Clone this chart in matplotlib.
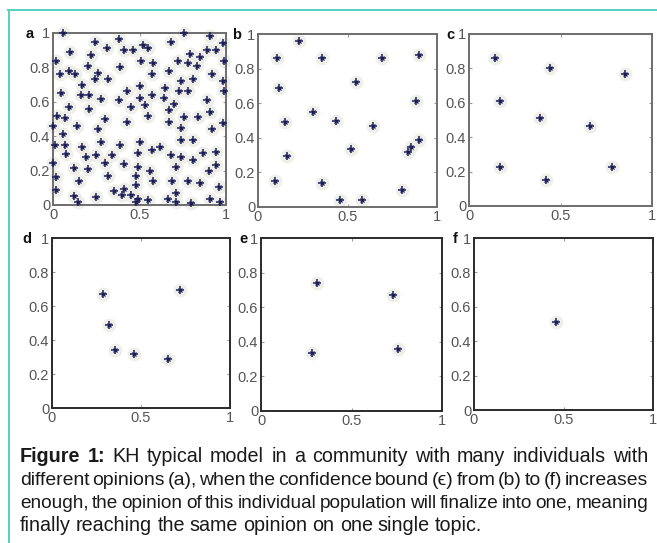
import numpy as np
import matplotlib
matplotlib.use("Agg")
import matplotlib.pyplot as plt
from matplotlib.lines import Line2D

plt.rcParams['font.family'] = ['Liberation Sans', 'DejaVu Sans']

# opinions of the individuals (x, y)
a_x = [0.058, 0.76, 0.91, 0.24, 0.38, 0.52, 0.68, 0.98, 0.10, 0.31, 0.41, 0.46, 0.55, 0.89,
       0.94, 0.22, 0.79, 0.02, 0.85, 0.51, 0.58, 0.72, 0.78, 0.99, 0.20, 0.09, 0.39, 0.67,
       0.83, 0.04, 0.13, 0.26, 0.57, 0.92, 0.24, 0.32, 0.74, 0.81, 0.17, 0.50, 0.98, 0.645,
       0.43, 0.73, 0.78, 0.99, 0.044, 0.16, 0.21, 0.57, 0.28, 0.38, 0.50, 0.64, 0.89, 0.53,
       0.09, 0.45, 0.70, 0.21, 0.67, 0.91, 0.76, 0.025, 0.07, 0.30, 0.55, 0.43, 0.84, 0.67,
       0.98, 0.0, 0.14, 0.92, 0.74, 0.26, 0.06, 0.74, 0.81, 0.28, 0.01, 0.07, 0.17, 0.39,
       0.50, 0.62, 0.57, 0.075, 0.19, 0.25, 0.34, 0.49, 0.68, 0.74, 0.81, 0.865, 0.945, 0.30,
       0.0, 0.41, 0.12, 0.20, 0.49, 0.71, 0.945, 0.90, 0.02, 0.32, 0.48, 0.56, 0.15, 0.58,
       0.69, 0.78, 0.85, 0.48, 0.96, 0.015, 0.35, 0.41, 0.71, 0.12, 0.25, 0.40, 0.45, 0.49,
       0.55, 0.665, 0.91, 0.145, 0.48, 0.71, 0.80, 0.965]
a_y = [1.0, 1.0, 0.98, 0.95, 0.965, 0.93, 0.95, 0.94, 0.89, 0.91, 0.90, 0.90, 0.91, 0.90,
       0.90, 0.87, 0.88, 0.84, 0.86, 0.835, 0.825, 0.84, 0.825, 0.84, 0.81, 0.78, 0.80, 0.78,
       0.81, 0.76, 0.76, 0.77, 0.76, 0.76, 0.73, 0.73, 0.72, 0.73, 0.70, 0.69, 0.72, 0.68,
       0.66, 0.665, 0.665, 0.665, 0.65, 0.64, 0.64, 0.64, 0.615, 0.61, 0.62, 0.62, 0.61, 0.58,
       0.57, 0.57, 0.59, 0.56, 0.555, 0.54, 0.51, 0.52, 0.505, 0.50, 0.515, 0.485, 0.51, 0.48,
       0.475, 0.46, 0.46, 0.44, 0.45, 0.44, 0.41, 0.38, 0.38, 0.365, 0.35, 0.35, 0.335, 0.35,
       0.365, 0.34, 0.32, 0.295, 0.28, 0.29, 0.29, 0.30, 0.29, 0.28, 0.26, 0.305, 0.31, 0.245,
       0.245, 0.24, 0.215, 0.21, 0.22, 0.22, 0.23, 0.195, 0.165, 0.17, 0.17, 0.195, 0.14, 0.14,
       0.14, 0.14, 0.13, 0.115, 0.105, 0.09, 0.08, 0.095, 0.07, 0.05, 0.045, 0.06, 0.06, 0.035,
       0.03, 0.035, 0.035, 0.015, 0.02, 0.02, 0.01, 0.02]

b_x = [0.23, 0.107, 0.36, 0.69, 0.90, 0.55, 0.12, 0.88, 0.31, 0.15, 0.435, 0.645, 0.90,
       0.855, 0.84, 0.52, 0.16, 0.097, 0.355, 0.805, 0.46, 0.58]
b_y = [0.958, 0.86, 0.86, 0.86, 0.88, 0.72, 0.69, 0.615, 0.55, 0.49, 0.496, 0.47, 0.39,
       0.346, 0.317, 0.333, 0.294, 0.15, 0.14, 0.10, 0.038, 0.038]

c_x = [0.14, 0.44, 0.85, 0.17, 0.39, 0.66, 0.17, 0.78, 0.42]
c_y = [0.86, 0.80, 0.77, 0.61, 0.51, 0.467, 0.227, 0.227, 0.15]

d_x = [0.285, 0.72, 0.32, 0.355, 0.46, 0.65]
d_y = [0.673, 0.696, 0.486, 0.343, 0.32, 0.286]

e_x = [0.31, 0.73, 0.284, 0.756]
e_y = [0.74, 0.67, 0.337, 0.36]

f_x = [0.458]
f_y = [0.513]

panel_names = ['a', 'b', 'c', 'd', 'e', 'f']
panel_data = [(a_x, a_y), (b_x, b_y), (c_x, c_y), (d_x, d_y), (e_x, e_y), (f_x, f_y)]

x_ticks = [0, 0.5, 1]
x_ticklabels = ['0', '0.5', '1']
y_ticks = [0, 0.2, 0.4, 0.6, 0.8, 1]
y_ticklabels = ['0', '0.2', '0.4', '0.6', '0.8', '1']

caption = [
    "Figure 1: KH typical model in a community with many individuals with",
    "different opinions (a), when the confidence bound (\u03f5) from (b) to (f) increases",
    "enough, the opinion of this individual population will finalize into one, meaning",
    "finally reaching the same opinion on one single topic.",
]

W, H = 657, 543
fig = plt.figure(figsize=(W / 100, H / 100), dpi=100)
fig.patch.set_facecolor('white')

# axes boxes in pixels: left, top, right, bottom
boxes = [(53, 33, 226, 205), (258, 34, 437, 207), (469, 34, 652, 206),
         (52, 238, 230, 408), (261, 238, 442, 411), (474, 238, 653, 410)]
label_x = [30, 237, 450, 27, 243, 455]

navy = '#1b1b58'
for i, (name, (xs, ys)) in enumerate(zip(panel_names, panel_data)):
    l, t, r, b = boxes[i]
    ax = fig.add_axes([l / W, 1 - b / H, (r - l) / W, (b - t) / H])
    frame = '#6e6e6e' if i < 3 else '#2a2a2a'
    ax.plot(xs, ys, 'o', ms=10, color='#ecece4', alpha=0.8, mew=0, clip_on=False, zorder=2)
    ax.plot(xs, ys, '+', ms=6.2, mew=1.1, color=navy, clip_on=False, zorder=3)
    ax.plot(xs, ys, 'x', ms=2.8, mew=0.9, color=navy, clip_on=False, zorder=3)
    ax.set_xlim(0, 1)
    ax.set_ylim(0, 1)
    ax.set_xticks(x_ticks)
    ax.set_xticklabels(x_ticklabels)
    ax.set_yticks(y_ticks)
    ax.set_yticklabels(y_ticklabels)
    ax.tick_params(direction='in', length=2.5, width=0.8, colors='#999999',
                   labelcolor='#555555', labelsize=10.5, pad=2,
                   top=True, right=True)
    for s in ax.spines.values():
        s.set_color(frame)
        s.set_linewidth(1.4)
    fig.text(label_x[i] / W, 1 - (t + 1) / H, name, fontsize=10.5, fontweight='bold',
             ha='center', va='center', color='#111111')

# teal frame lines
teal = '#52d3c1'
fig.add_artist(Line2D([8 / W, 1], [1 - 10 / H, 1 - 10 / H], color=teal, lw=1.4))
fig.add_artist(Line2D([9 / W, 9 / W], [0, 1 - 10 / H], color=teal, lw=1.4))

# justified caption
fig.canvas.draw()
rend = fig.canvas.get_renderer()
left_px, right_px = 20, 648
base_size = 14.2
baselines = [462, 485, 508, 531]
for li, line in enumerate(caption):
    words = line.split(' ')
    size = base_size
    for attempt in range(6):
        arts = []
        for wi, w in enumerate(words):
            bold = li == 0 and wi < 2
            arts.append(fig.text(0, 0, w, fontsize=size,
                                 fontweight='bold' if bold else 'normal',
                                 color='#1a1a1a', va='baseline', ha='left'))
        widths = [a.get_window_extent(rend).width for a in arts]
        space = size * 100 / 72 * 0.14
        need = sum(widths) + space * (len(words) - 1)
        if li < 3 and need > right_px - left_px and attempt < 5:
            for a in arts:
                a.remove()
            size *= (right_px - left_px) / need
            continue
        break
    if li < 3:
        gap = (right_px - left_px - sum(widths)) / (len(words) - 1)
    else:
        gap = size * 100 / 72 * 0.26
    x = left_px
    for a, w in zip(arts, widths):
        a.set_position((x / W, 1 - baselines[li] / H))
        x += w + gap

fig.savefig('out.png', dpi=100, facecolor='white')
